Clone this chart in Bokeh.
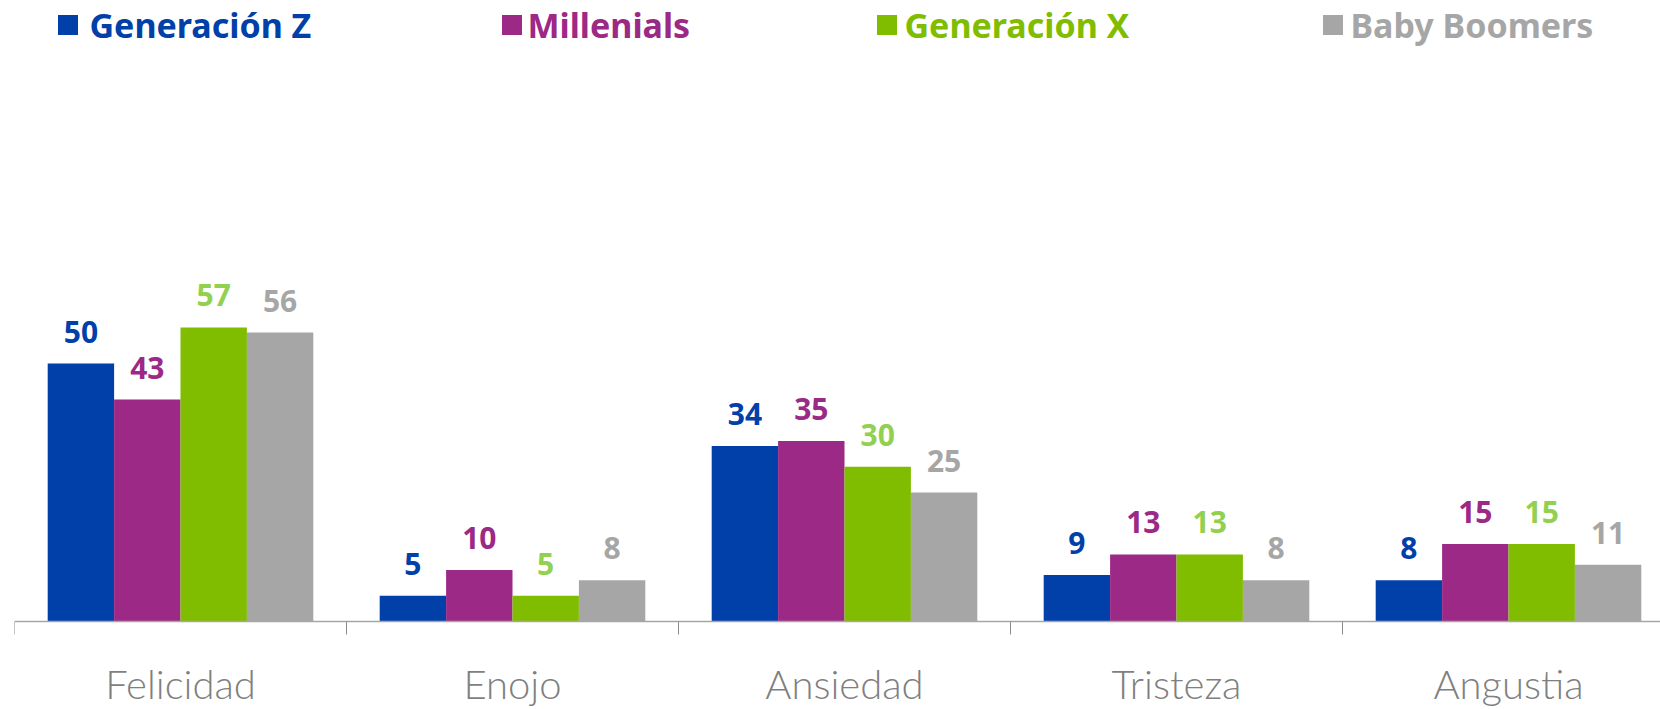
from bokeh.plotting import figure
from bokeh.models import (ColumnDataSource, Range1d, LinearAxis, FixedTicker,
                          Legend, LegendItem)
from bokeh.core.properties import value
from bokeh.embed import file_html
from bokeh.resources import INLINE

categories = ["Felicidad", "Enojo", "Ansiedad", "Tristeza", "Angustia"]
series_names = ["Generación Z", "Millenials", "Generación X", "Baby Boomers"]
gen_z = [50, 5, 34, 9, 8]
millenials = [43, 10, 35, 13, 15]
gen_x = [57, 5, 30, 13, 15]
boomers = [56, 8, 25, 8, 11]
series_values = [gen_z, millenials, gen_x, boomers]

bar_colors = ["#0040A8", "#9B2985", "#80BD00", "#A6A6A6"]
label_colors = ["#0040A8", "#9B2985", "#92D050", "#A6A6A6"]
legend_colors = ["#0040A8", "#9B2985", "#80BD00", "#A6A6A6"]

W, H = 1660, 709
px_per_cat = 332.0
frame_left = 14
frame_h = H           # the axis sits inside the frame (fixed_location)
base_y = 621          # screen y of the value 0
px_per_unit = 5.16

p = figure(width=W, height=H, output_backend="svg", toolbar_location=None,
           x_range=Range1d(0, (W - frame_left) / px_per_cat),
           y_range=Range1d(-(frame_h - base_y) / px_per_unit, base_y / px_per_unit),
           min_border_left=frame_left, min_border_right=0,
           min_border_top=0, min_border_bottom=0,
           x_axis_type=None, y_axis_type=None)
p.outline_line_color = None
p.grid.visible = False
p.background_fill_color = "white"
p.border_fill_color = "white"

bar_w = 0.2
offsets = [-0.3, -0.1, 0.1, 0.3]
renderers = []
for k, (vals, off) in enumerate(zip(series_values, offsets)):
    xs = [i + 0.5 + off for i in range(len(categories))]
    src = ColumnDataSource(dict(x=xs, top=vals, lbl=[str(v) for v in vals]))
    r = p.vbar(x="x", top="top", bottom=0, width=bar_w, source=src,
               fill_color=bar_colors[k], line_color=None)
    renderers.append(r)
    p.text(x="x", y="top", text="lbl", source=src, y_offset=-32,
           text_align="center", text_baseline="alphabetic",
           text_font=value("Noto Sans"), text_font_style="bold",
           text_font_size="30px", text_color=label_colors[k])

xaxis = LinearAxis(
    fixed_location=0,
    ticker=FixedTicker(ticks=[i + 0.5 for i in range(len(categories))],
                       minor_ticks=list(range(len(categories) + 1))),
    major_label_overrides={i + 0.5: c for i, c in enumerate(categories)})
xaxis.axis_line_color = "#A6A6A6"
xaxis.axis_line_width = 1.5
xaxis.major_tick_line_color = None
xaxis.major_tick_out = 0
xaxis.major_tick_in = 0
xaxis.minor_tick_line_color = "#8C8C8C"
xaxis.minor_tick_out = 13
xaxis.minor_tick_in = 0
xaxis.major_label_standoff = 25
xaxis.major_label_text_font = "'Lato Light', Lato"
xaxis.major_label_text_font_size = "40px"
xaxis.major_label_text_color = "#7F7F7F"
p.add_layout(xaxis, "below")

legend_x = [40.5, 484.5, 859.5, 1305.5]
legend_standoff = [10, 4, 6, 6]
for k in range(4):
    lg = Legend(items=[LegendItem(label=series_names[k], renderers=[renderers[k]])],
                location=(legend_x[k], frame_h - 47.5),
                orientation="horizontal",
                label_text_font="Noto Sans", label_text_font_style="bold",
                label_text_font_size="34px", label_text_color=legend_colors[k],
                glyph_width=25, glyph_height=25, label_height=25,
                label_standoff=legend_standoff[k],
                padding=0, margin=0, spacing=0,
                border_line_color=None, background_fill_alpha=0)
    p.add_layout(lg, "center")

open("out.html", "w").write(file_html(p, INLINE))
